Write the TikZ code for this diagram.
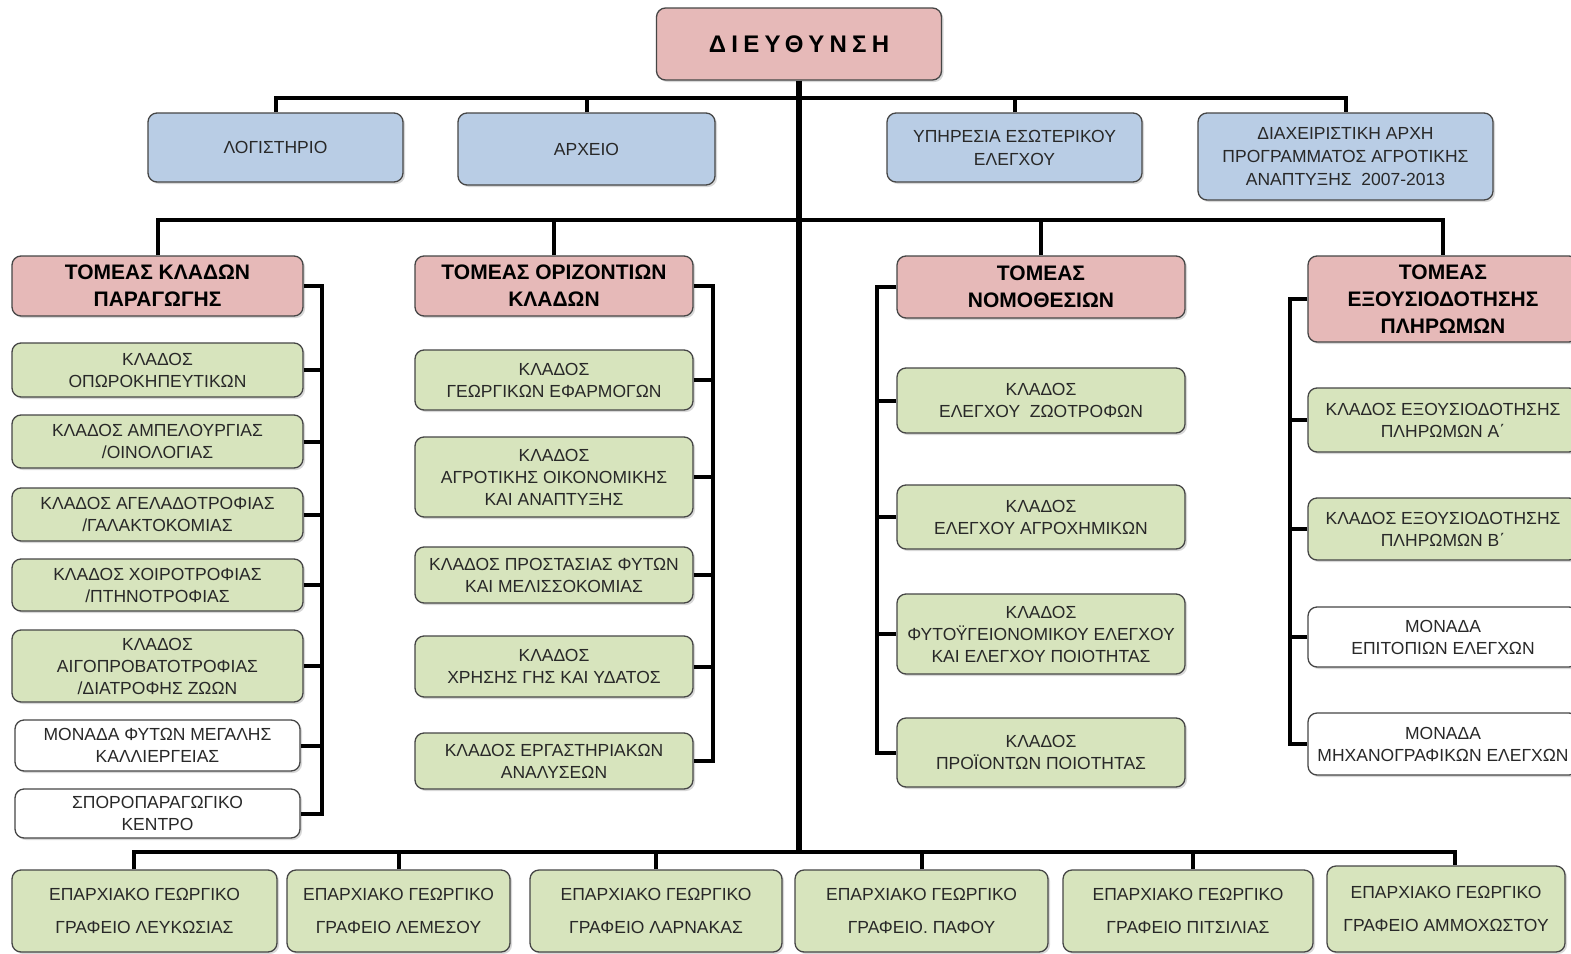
\documentclass[tikz,border=0pt]{standalone}
\usepackage{fontspec}
\setmainfont{Liberation Sans}
\usepackage{tikz}
\usetikzlibrary{shadows}
\definecolor{tomeaspink}{RGB}{230,185,184}
\definecolor{ypiresiablue}{RGB}{185,205,229}
\definecolor{kladosgreen}{RGB}{215,228,189}
\definecolor{boxedge}{RGB}{70,70,70}
\definecolor{textgrey}{RGB}{40,40,40}
\tikzset{
  unit/.style={draw=boxedge, line width=1.3pt, rounded corners=9pt, align=center, inner sep=0pt,
    text=textgrey, drop shadow={shadow xshift=2pt, shadow yshift=-2pt, opacity=0.3},
    font=\fontsize{17.5}{22}\selectfont},
  dirbox/.style={unit, fill=tomeaspink, text=black, font=\fontsize{24}{28}\selectfont\bfseries\addfontfeature{LetterSpace=22}},
  tomeas/.style={unit, fill=tomeaspink, text=black, font=\fontsize{21}{27}\selectfont\bfseries},
  ypiresia/.style={unit, fill=ypiresiablue, font=\fontsize{17.5}{23}\selectfont},
  klados/.style={unit, fill=kladosgreen},
  monada/.style={unit, fill=white},
  eparxia/.style={unit, fill=kladosgreen, font=\fontsize{17.5}{33}\selectfont},
  bus/.style={line width=4pt},
  trunk/.style={line width=6.5pt}
}
\begin{document}
\begin{tikzpicture}[x=1pt,y=-1pt]
\fill [white] (0,0) rectangle (1571,953);
\useasboundingbox (0,0) rectangle (1571,953);
% direction and staff services
\node [dirbox, minimum width=285pt, minimum height=72pt] (dir) at (799,44) {ΔΙΕΥΘΥΝΣΗ};
\node [ypiresia, minimum width=255pt, minimum height=69pt] (log) at (275.5,147.5) {ΛΟΓΙΣΤΗΡΙΟ};
\node [ypiresia, minimum width=257pt, minimum height=72pt] (arx) at (586.5,149) {ΑΡΧΕΙΟ};
\node [ypiresia, minimum width=255pt, minimum height=69pt] (ypes) at (1014.5,147.5) {ΥΠΗΡΕΣΙΑ ΕΣΩΤΕΡΙΚΟΥ\\ΕΛΕΓΧΟΥ};
\node [ypiresia, minimum width=295pt, minimum height=87pt] (diax) at (1345.5,156.5) {ΔΙΑΧΕΙΡΙΣΤΙΚΗ ΑΡΧΗ\\ΠΡΟΓΡΑΜΜΑΤΟΣ ΑΓΡΟΤΙΚΗΣ\\ΑΝΑΠΤΥΞΗΣ~~2007-2013};
% sectors
\node [tomeas, minimum width=291pt, minimum height=60pt] (tom1) at (157.5,286) {ΤΟΜΕΑΣ ΚΛΑΔΩΝ\\ΠΑΡΑΓΩΓΗΣ};
\node [tomeas, minimum width=278pt, minimum height=60pt] (tom2) at (554,286) {ΤΟΜΕΑΣ ΟΡΙΖΟΝΤΙΩΝ\\ΚΛΑΔΩΝ};
\node [tomeas, minimum width=288pt, minimum height=62pt] (tom3) at (1041,287) {ΤΟΜΕΑΣ\\ΝΟΜΟΘΕΣΙΩΝ};
\node [tomeas, minimum width=270pt, minimum height=86pt] (tom4) at (1443,299) {ΤΟΜΕΑΣ\\ΕΞΟΥΣΙΟΔΟΤΗΣΗΣ\\ΠΛΗΡΩΜΩΝ};
% branches of sector 1
\node [klados, minimum width=291pt, minimum height=54pt] (k11) at (157.5,370) {ΚΛΑΔΟΣ\\ΟΠΩΡΟΚΗΠΕΥΤΙΚΩΝ};
\node [klados, minimum width=291pt, minimum height=53pt] (k12) at (157.5,441.5) {ΚΛΑΔΟΣ ΑΜΠΕΛΟΥΡΓΙΑΣ\\/ΟΙΝΟΛΟΓΙΑΣ};
\node [klados, minimum width=291pt, minimum height=53pt] (k13) at (157.5,514.5) {ΚΛΑΔΟΣ ΑΓΕΛΑΔΟΤΡΟΦΙΑΣ\\/ΓΑΛΑΚΤΟΚΟΜΙΑΣ};
\node [klados, minimum width=291pt, minimum height=52pt] (k14) at (157.5,585) {ΚΛΑΔΟΣ ΧΟΙΡΟΤΡΟΦΙΑΣ\\/ΠΤΗΝΟΤΡΟΦΙΑΣ};
\node [klados, minimum width=291pt, minimum height=72pt] (k15) at (157.5,666) {ΚΛΑΔΟΣ\\ΑΙΓΟΠΡΟΒΑΤΟΤΡΟΦΙΑΣ\\/ΔΙΑΤΡΟΦΗΣ ΖΩΩΝ};
\node [monada, minimum width=285pt, minimum height=51pt] (m16) at (157.5,745.5) {ΜΟΝΑΔΑ ΦΥΤΩΝ ΜΕΓΑΛΗΣ\\ΚΑΛΛΙΕΡΓΕΙΑΣ};
\node [monada, minimum width=285pt, minimum height=49pt] (m17) at (157.5,813.5) {ΣΠΟΡΟΠΑΡΑΓΩΓΙΚΟ\\ΚΕΝΤΡΟ};
% branches of sector 2
\node [klados, minimum width=278pt, minimum height=60pt] (k21) at (554,380) {ΚΛΑΔΟΣ\\ΓΕΩΡΓΙΚΩΝ ΕΦΑΡΜΟΓΩΝ};
\node [klados, minimum width=278pt, minimum height=80pt] (k22) at (554,477) {ΚΛΑΔΟΣ\\ΑΓΡΟΤΙΚΗΣ ΟΙΚΟΝΟΜΙΚΗΣ\\ΚΑΙ ΑΝΑΠΤΥΞΗΣ};
\node [klados, minimum width=278pt, minimum height=56pt] (k23) at (554,575) {ΚΛΑΔΟΣ ΠΡΟΣΤΑΣΙΑΣ ΦΥΤΩΝ\\ΚΑΙ ΜΕΛΙΣΣΟΚΟΜΙΑΣ};
\node [klados, minimum width=278pt, minimum height=61pt] (k24) at (554,666.5) {ΚΛΑΔΟΣ\\ΧΡΗΣΗΣ ΓΗΣ ΚΑΙ ΥΔΑΤΟΣ};
\node [klados, minimum width=278pt, minimum height=56pt] (k25) at (554,761) {ΚΛΑΔΟΣ ΕΡΓΑΣΤΗΡΙΑΚΩΝ\\ΑΝΑΛΥΣΕΩΝ};
% branches of sector 3
\node [klados, minimum width=288pt, minimum height=65pt] (k31) at (1041,400.5) {ΚΛΑΔΟΣ\\ΕΛΕΓΧΟΥ~~ΖΩΟΤΡΟΦΩΝ};
\node [klados, minimum width=288pt, minimum height=64pt] (k32) at (1041,517) {ΚΛΑΔΟΣ\\ΕΛΕΓΧΟΥ ΑΓΡΟΧΗΜΙΚΩΝ};
\node [klados, minimum width=288pt, minimum height=80pt] (k33) at (1041,634) {ΚΛΑΔΟΣ\\ΦΥΤΟΫΓΕΙΟΝΟΜΙΚΟΥ ΕΛΕΓΧΟΥ\\ΚΑΙ ΕΛΕΓΧΟΥ ΠΟΙΟΤΗΤΑΣ};
\node [klados, minimum width=288pt, minimum height=69pt] (k34) at (1041,752.5) {ΚΛΑΔΟΣ\\ΠΡΟΪΟΝΤΩΝ ΠΟΙΟΤΗΤΑΣ};
% branches of sector 4
\node [klados, minimum width=270pt, minimum height=64pt] (k41) at (1443,420) {ΚΛΑΔΟΣ ΕΞΟΥΣΙΟΔΟΤΗΣΗΣ\\ΠΛΗΡΩΜΩΝ Α΄};
\node [klados, minimum width=270pt, minimum height=62pt] (k42) at (1443,529) {ΚΛΑΔΟΣ ΕΞΟΥΣΙΟΔΟΤΗΣΗΣ\\ΠΛΗΡΩΜΩΝ Β΄};
\node [monada, minimum width=270pt, minimum height=60pt] (m43) at (1443,637) {ΜΟΝΑΔΑ\\ΕΠΙΤΟΠΙΩΝ ΕΛΕΓΧΩΝ};
\node [monada, minimum width=270pt, minimum height=62pt] (m44) at (1443,744) {ΜΟΝΑΔΑ\\ΜΗΧΑΝΟΓΡΑΦΙΚΩΝ ΕΛΕΓΧΩΝ};
% district offices
\node [eparxia, minimum width=265pt, minimum height=82pt] (ep1) at (144.5,911) {ΕΠΑΡΧΙΑΚΟ ΓΕΩΡΓΙΚΟ\\ΓΡΑΦΕΙΟ ΛΕΥΚΩΣΙΑΣ};
\node [eparxia, minimum width=223pt, minimum height=82pt] (ep2) at (398.5,911) {ΕΠΑΡΧΙΑΚΟ ΓΕΩΡΓΙΚΟ\\ΓΡΑΦΕΙΟ ΛΕΜΕΣΟΥ};
\node [eparxia, minimum width=252pt, minimum height=82pt] (ep3) at (656,911) {ΕΠΑΡΧΙΑΚΟ ΓΕΩΡΓΙΚΟ\\ΓΡΑΦΕΙΟ ΛΑΡΝΑΚΑΣ};
\node [eparxia, minimum width=253pt, minimum height=82pt] (ep4) at (921.5,911) {ΕΠΑΡΧΙΑΚΟ ΓΕΩΡΓΙΚΟ\\ΓΡΑΦΕΙΟ. ΠΑΦΟΥ};
\node [eparxia, minimum width=250pt, minimum height=82pt] (ep5) at (1188,911) {ΕΠΑΡΧΙΑΚΟ ΓΕΩΡΓΙΚΟ\\ΓΡΑΦΕΙΟ ΠΙΤΣΙΛΙΑΣ};
\node [eparxia, minimum width=238pt, minimum height=86pt] (ep6) at (1446,909) {ΕΠΑΡΧΙΑΚΟ ΓΕΩΡΓΙΚΟ\\ΓΡΑΦΕΙΟ ΑΜΜΟΧΩΣΤΟΥ};
% buses
\coordinate (bus1) at (799,98);
\coordinate (bus2) at (799,220);
\coordinate (bus3) at (799,852);
\draw [trunk] (dir.south) -- (bus3);
\draw [bus] (log.north) |- (bus1) -| (diax.north);
\draw [bus] (arx.north) -- (arx.north |- bus1);
\draw [bus] (ypes.north) -- (ypes.north |- bus1);
\draw [bus] (tom1.north) |- (bus2) -| (tom4.north);
\draw [bus] (tom2.north) -- (tom2.north |- bus2);
\draw [bus] (tom3.north) -- (tom3.north |- bus2);
\draw [bus] ([xshift=-11pt]ep1.north) |- (bus3) -| ([xshift=9pt]ep6.north);
\draw [bus] (ep2.north) -- (ep2.north |- bus3);
\draw [bus] (ep3.north) -- (ep3.north |- bus3);
\draw [bus] (ep4.north) -- (ep4.north |- bus3);
\draw [bus] ([xshift=5pt]ep5.north) -- ([xshift=5pt]ep5.north |- bus3);
% sector brackets
\coordinate (br1) at (322,0);
\coordinate (br2) at (713,0);
\coordinate (br3) at (877,0);
\coordinate (br4) at (1290,0);
\draw [bus] (tom1.east) -| (br1 |- m17.east) -- (m17.east);
\draw [bus] (k11.east) -- (k11.east -| br1);
\draw [bus] (k12.east) -- (k12.east -| br1);
\draw [bus] (k13.east) -- (k13.east -| br1);
\draw [bus] (k14.east) -- (k14.east -| br1);
\draw [bus] (k15.east) -- (k15.east -| br1);
\draw [bus] (m16.east) -- (m16.east -| br1);
\draw [bus] (tom2.east) -| (br2 |- k25.east) -- (k25.east);
\draw [bus] (k21.east) -- (k21.east -| br2);
\draw [bus] (k22.east) -- (k22.east -| br2);
\draw [bus] (k23.east) -- (k23.east -| br2);
\draw [bus] (k24.east) -- (k24.east -| br2);
\draw [bus] (tom3.west) -| (br3 |- k34.west) -- (k34.west);
\draw [bus] (k31.west) -- (k31.west -| br3);
\draw [bus] (k32.west) -- (k32.west -| br3);
\draw [bus] (k33.west) -- (k33.west -| br3);
\draw [bus] (tom4.west) -| (br4 |- m44.west) -- (m44.west);
\draw [bus] (k41.west) -- (k41.west -| br4);
\draw [bus] (k42.west) -- (k42.west -| br4);
\draw [bus] (m43.west) -- (m43.west -| br4);
\end{tikzpicture}
\end{document}
